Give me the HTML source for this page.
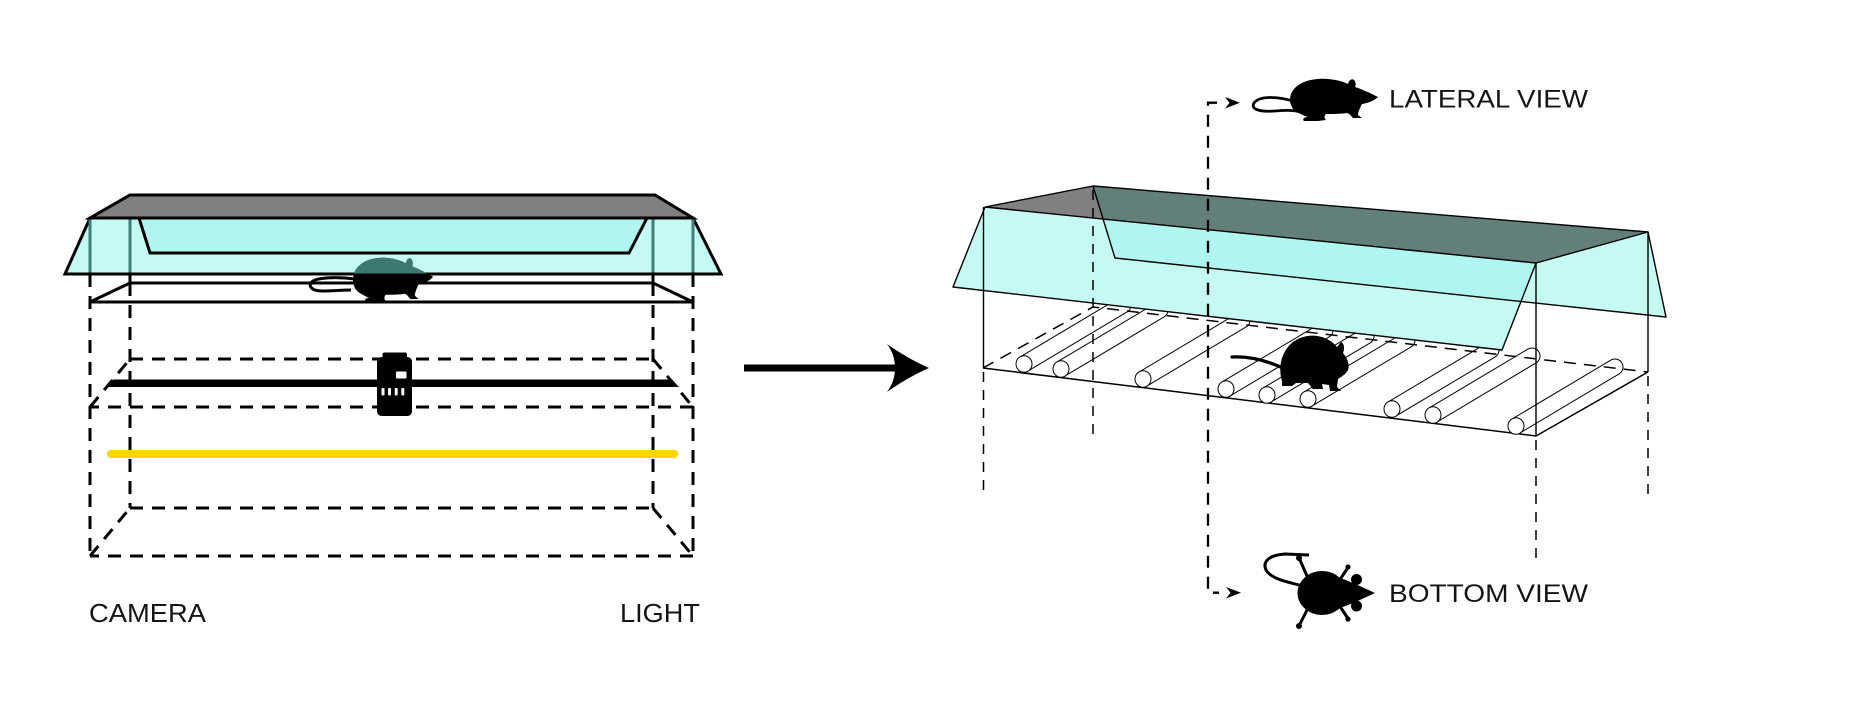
<!DOCTYPE html>
<html><head><meta charset="utf-8"><style>
html,body{margin:0;padding:0;background:#fff;}
svg{display:block;}
text{font-family:"Liberation Sans",sans-serif;fill:#141414;}
</style></head><body>
<svg width="1858" height="708" viewBox="0 0 1858 708" xmlns="http://www.w3.org/2000/svg">
<defs>
<filter id="glow" x="-10%" y="-200%" width="120%" height="500%"><feGaussianBlur stdDeviation="3"/></filter>
<clipPath id="abovecyan"><rect x="0" y="0" width="800" height="273.5"/></clipPath>
<g id="rl">
<path d="M-4.1,-6.9 L94.9,-65.9 M4.1,6.9 L103.1,-52.1 M94.9,-65.9 A8,8 0 0 1 103.1,-52.1" fill="none" stroke="#000" stroke-width="1"/>
<ellipse cx="0" cy="0" rx="8" ry="8.3" fill="#fff" stroke="#000" stroke-width="1"/>
</g>
<path id="latbody" d="M0,21 C0,9 12,1 28,0 C40,-1 52,2 58,5 C59,1 62,-1 64,1 C66,3 66,6 65,8 C74,11 82,15 88,18 C84,22 78,24 72,25 C70,29 68,33 68,36 L72,39 L63,39 C61,37 60,35 57,34 C50,35 42,35 36,35 C34,37 34,39 36,41 L28,42 L14,42 C12,40 14,38 18,38 C12,36 6,33 3,30 C1,27 0,24 0,21 Z"/>
</defs>
<rect width="1858" height="708" fill="#fff"/>

<!-- ============ LEFT DIAGRAM ============ -->
<g stroke="#000" stroke-width="3" fill="none" stroke-dasharray="13 9">
<line x1="90" y1="274" x2="90" y2="556"/>
<line x1="693" y1="274" x2="693" y2="556"/>
<line x1="130" y1="283" x2="130" y2="508"/>
<line x1="653" y1="283" x2="653" y2="508"/>
<path d="M130,359 H653 M653,359 L693,407 M693,407 H90 M90,407 L130,359"/>
<path d="M130,508 H653 M653,508 L693,556 M693,556 H90 M90,556 L130,508"/>
</g>
<path d="M130,274 V283 H653 V274 M130,283 L90,302 H693 L653,283" stroke="#000" stroke-width="3" fill="none"/>

<!-- yellow light -->
<line x1="111" y1="454" x2="674" y2="454" stroke="#fff0a0" stroke-width="16" stroke-linecap="round" filter="url(#glow)" opacity="0.9"/>
<line x1="111" y1="454" x2="674" y2="454" stroke="#f8d600" stroke-width="8" stroke-linecap="round"/>

<!-- rail -->
<polygon points="106,387 113,379.5 672,379.5 679,387" fill="#000"/>

<!-- camera -->
<rect x="382.5" y="352.5" width="24.5" height="8" rx="2" fill="#000"/>
<rect x="377" y="357" width="35" height="59" rx="4.5" fill="#000"/>
<rect x="396" y="371.5" width="10.5" height="7" rx="1" fill="#fff"/>
<rect x="381.5" y="388" width="3" height="7.5" rx="1" fill="#fff"/>
<rect x="388" y="388" width="3" height="7.5" rx="1" fill="#fff"/>
<rect x="394.7" y="388" width="3" height="7.5" rx="1" fill="#fff"/>
<rect x="401.3" y="388" width="3" height="7.5" rx="1" fill="#fff"/>

<!-- cover -->
<polygon points="90,218 693,218 721,274 65,274" fill="#c5f9f4" stroke="#000" stroke-width="3" stroke-linejoin="miter"/>
<polygon points="130,195 655,195 693,218 90,218" fill="#808080" stroke="#000" stroke-width="3" stroke-linejoin="miter"/>
<polygon points="139,218 647,218 629,253 150,253" fill="#aef6ef" stroke="#000" stroke-width="3"/>
<g stroke="#3f7d77" stroke-width="3">
<line x1="90" y1="219.5" x2="90" y2="272.5"/>
<line x1="130" y1="219.5" x2="130" y2="272.5"/>
<line x1="653" y1="219.5" x2="653" y2="272.5"/>
<line x1="693" y1="219.5" x2="693" y2="272.5"/>
</g>

<!-- left mouse -->
<g>
<path d="M355,279 C340,277 320,277 313,281 C307,285 311,291 322,291 C332,291 342,290 351,290" fill="none" stroke="#000" stroke-width="3"/>
<use href="#latbody" transform="translate(353,258) scale(0.91,1.05)" fill="#000"/>
<g clip-path="url(#abovecyan)">
<use href="#latbody" transform="translate(353,258) scale(0.91,1.05)" fill="#3d7872"/>
</g>
</g>

<text x="89" y="622" font-size="26" textLength="117" lengthAdjust="spacingAndGlyphs">CAMERA</text>
<text x="620" y="622" font-size="26" textLength="80" lengthAdjust="spacingAndGlyphs">LIGHT</text>

<!-- ============ ARROW ============ -->
<line x1="744" y1="368" x2="897" y2="368" stroke="#000" stroke-width="7"/>
<path d="M929,368 C915,362 898,352 887,344 C893,352 895,360 895,368 C895,376 893,384 887,392 C898,384 915,374 929,368 Z" fill="#000"/>

<!-- ============ RIGHT DIAGRAM ============ -->
<!-- floor -->
<path d="M983,368 L1536,436 L1648,372" stroke="#000" stroke-width="1.5" fill="none"/>
<path d="M983,368 L1093,307 L1648,372" stroke="#000" stroke-width="1.5" fill="none" stroke-dasharray="12 8"/>

<!-- rollers -->
<use href="#rl" x="1024" y="364"/>
<use href="#rl" x="1061" y="369"/>
<use href="#rl" x="1143" y="379"/>
<use href="#rl" x="1226" y="389"/>
<use href="#rl" x="1267" y="395"/>
<use href="#rl" x="1308" y="399"/>
<use href="#rl" x="1392" y="409"/>
<use href="#rl" x="1433" y="415"/>
<use href="#rl" x="1516" y="426"/>

<!-- right mouse -->
<path d="M1232,357 C1250,356 1268,361 1285,369" fill="none" stroke="#000" stroke-width="3.2" stroke-linecap="round"/>
<path d="M1282,381 C1277,365 1283,345 1300,338 C1315,332 1330,338 1337,347 L1341,342 C1344,343 1345,348 1343,353 C1347,358 1350,364 1348,370 C1346,374 1341,377 1338,379 L1337,387 L1341,391 L1330,391 L1329,385 L1322,384 L1323,389 L1313,389 L1308,383 L1296,383 L1292,386 L1282,386 Z" fill="#000"/>

<!-- cover fills -->
<polygon points="1093,186 1648,232 1666,317 1115,258" fill="#c5f9f4"/>
<polygon points="985,207 1536,263 1502,350 953,287" fill="#c5f9f4"/>
<polygon points="1103,219 1536,263 1521,301.5 1115,258" fill="#aef6ef"/>
<polygon points="1093,186 1648,232 1536,263 1103,219" fill="#637f79"/>
<polygon points="985,207 1093,186 1103,219" fill="#808080"/>
<!-- cover strokes -->
<g stroke="#000" stroke-width="1.4" fill="none" stroke-linejoin="round">
<path d="M985,207 L1093,186 L1648,232 L1536,263 L985,207"/>
<path d="M1093,186 L1115,258 L1666,317 L1648,232"/>
<path d="M985,207 L953,287 L1502,350 L1536,263"/>
<line x1="983.5" y1="207" x2="983.5" y2="368"/>
<line x1="1536" y1="263" x2="1536" y2="436"/>
<line x1="1648" y1="232" x2="1648" y2="372"/>
</g>
<g stroke="#000" stroke-width="1.5" stroke-dasharray="10 8" fill="none">
<line x1="983.5" y1="372" x2="983.5" y2="493"/>
<line x1="1093" y1="190" x2="1093" y2="442"/>
<line x1="1536" y1="440" x2="1536" y2="560"/>
<line x1="1648" y1="376" x2="1648" y2="495"/>
</g>

<!-- view connector -->
<path d="M1217,102.7 H1208 V592.7 H1219" fill="none" stroke="#000" stroke-width="2.3" stroke-dasharray="12 9"/>
<path d="M1240,102.7 L1225,97 L1229.5,102.7 L1225,108.5 Z" fill="#000"/>
<path d="M1241,592.7 L1226,587 L1230.5,592.7 L1226,598.5 Z" fill="#000"/>

<!-- lateral mouse -->
<path d="M1293,101 C1276,96 1259,96 1254,103 C1250,110 1262,112 1275,111 C1287,110 1296,110 1303,113" fill="none" stroke="#000" stroke-width="2.8"/>
<use href="#latbody" transform="translate(1290,79)" fill="#000"/>

<!-- bottom mouse -->
<path d="M1302,586 C1290,582 1272,580 1266,570 C1262,561 1270,555 1285,554 L1309,555" fill="none" stroke="#000" stroke-width="3"/>
<g stroke="#000" stroke-width="3" stroke-linecap="round">
<line x1="1307" y1="576" x2="1300" y2="560"/>
<line x1="1307" y1="610" x2="1300" y2="624"/>
<line x1="1341" y1="578" x2="1347" y2="569"/>
<line x1="1341" y1="608" x2="1347" y2="617"/>
</g>
<g fill="#000">
<circle cx="1299" cy="558" r="3"/>
<circle cx="1299" cy="626" r="3"/>
<circle cx="1348" cy="567" r="2.6"/>
<circle cx="1348" cy="619" r="2.6"/>
<ellipse cx="1322" cy="593" rx="24.5" ry="22"/>
<path d="M1336,577 C1345,579 1360,586 1375,593 C1360,600 1345,607 1336,609 Z"/>
<circle cx="1356.5" cy="579.5" r="5.5"/>
<circle cx="1356.5" cy="606" r="5.5"/>
</g>

<text x="1389" y="107.5" font-size="25" textLength="199" lengthAdjust="spacingAndGlyphs">LATERAL VIEW</text>
<text x="1389" y="602" font-size="25" textLength="199" lengthAdjust="spacingAndGlyphs">BOTTOM VIEW</text>
</svg>
</body></html>
